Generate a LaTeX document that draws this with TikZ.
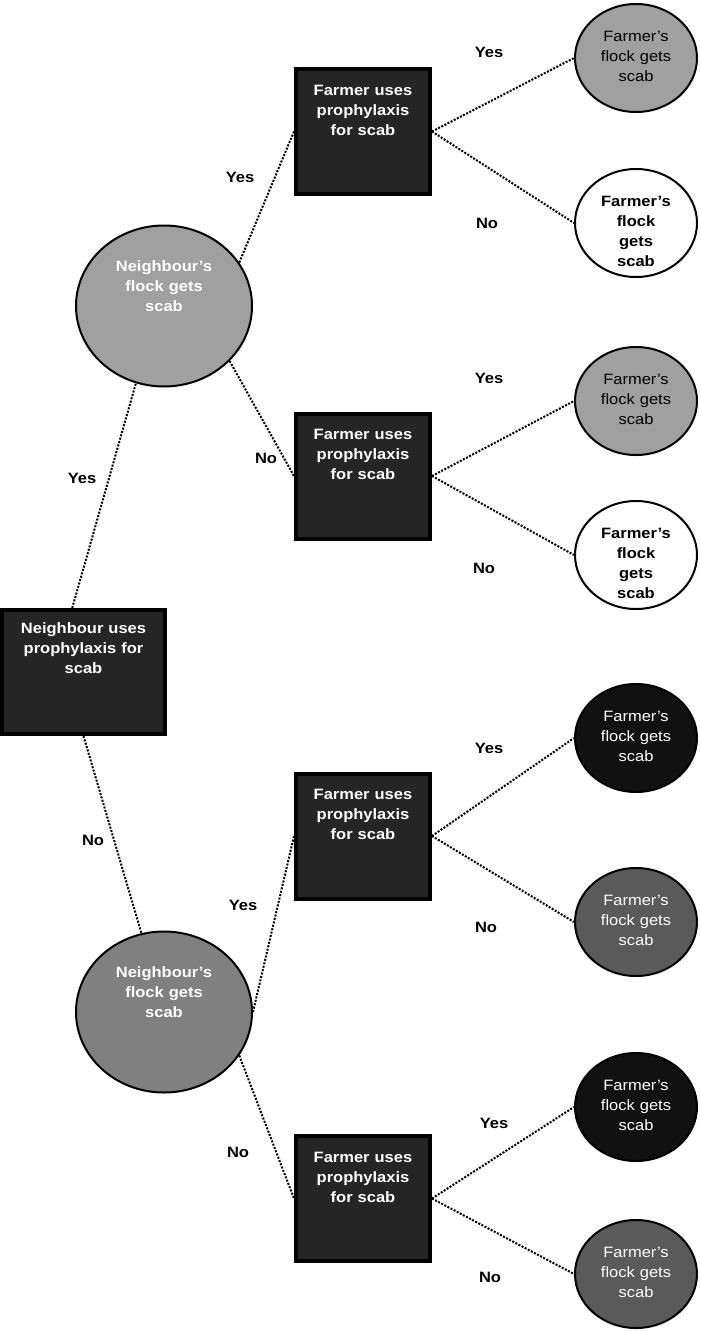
\documentclass[tikz,border=0pt]{standalone}
\usepackage{fontspec}
\setmainfont{Liberation Sans}[FakeStretch=1.1]
\usetikzlibrary{backgrounds,shapes.geometric}
\definecolor{boxfill}{HTML}{252525}
\definecolor{lightgrey}{HTML}{A0A0A0}
\definecolor{midgrey}{HTML}{808080}
\definecolor{darkgrey}{HTML}{5A5A5A}
\definecolor{nearblack}{HTML}{111111}
\tikzset{
  dbox/.style={rectangle, draw=black, line width=4pt, fill=boxfill, text=white, align=center,
    font=\bfseries\fontsize{15}{20}\selectfont, text width=125pt, minimum width=134pt,
    inner ysep=15pt, text height=11pt, text depth=84pt},
  rootbox/.style={dbox, text width=150pt, minimum width=163pt, inner ysep=12pt, text depth=89pt},
  nbr/.style={ellipse, draw=black, line width=2pt, text=white, align=center,
    font=\bfseries\fontsize{15}{20}\selectfont, text width=110pt, inner sep=0pt,
    text height=11pt, text depth=81pt, minimum width=176pt, minimum height=161pt},
  leaf/.style={ellipse, draw=black, line width=2pt, align=center,
    font=\fontsize{15}{20}\selectfont, text width=84pt, inner sep=0pt,
    text height=11pt, text depth=44pt, minimum width=122pt, minimum height=108pt},
  leafgrey/.style={leaf, fill=lightgrey},
  leafwhite/.style={leaf, fill=white, font=\bfseries\fontsize{15}{20}\selectfont},
  leafblack/.style={leaf, fill=nearblack, text=white},
  leafdark/.style={leaf, fill=darkgrey, text=white},
  conn/.style={line width=2pt, dash pattern=on 2pt off 1.5pt},
  lbl/.style={font=\bfseries\fontsize{15}{20}\selectfont, inner sep=0pt}}
\begin{document}
\begin{tikzpicture}[x=1pt, y=-1pt]
  \useasboundingbox (0,0) rectangle (701,1333);
  % decision nodes
  \node[rootbox] (root) at (83.5,672) {Neighbour uses\\prophylaxis for\\scab};
  \node[nbr, fill=lightgrey] (n1) at (164,306) {Neighbour's\\flock gets\\scab};
  \node[nbr, fill=midgrey] (n2) at (164,1012) {Neighbour's\\flock gets\\scab};
  \node[dbox] (f1) at (363,131.5) {Farmer uses\\prophylaxis\\for scab};
  \node[dbox] (f2) at (363,476) {Farmer uses\\prophylaxis\\for scab};
  \node[dbox] (f3) at (363,836) {Farmer uses\\prophylaxis\\for scab};
  \node[dbox] (f4) at (363,1198.5) {Farmer uses\\prophylaxis\\for scab};
  % outcomes
  \node[leafgrey] (l1) at (636,58) {Farmer's\\flock gets\\scab};
  \node[leafwhite] (l2) at (636,223) {Farmer's\\flock\\gets\\scab};
  \node[leafgrey] (l3) at (636,401) {Farmer's\\flock gets\\scab};
  \node[leafwhite] (l4) at (636,555) {Farmer's\\flock\\gets\\scab};
  \node[leafblack] (l5) at (636,738) {Farmer's\\flock gets\\scab};
  \node[leafdark] (l6) at (636,922) {Farmer's\\flock gets\\scab};
  \node[leafblack] (l7) at (636,1107) {Farmer's\\flock gets\\scab};
  \node[leafdark] (l8) at (636,1274) {Farmer's\\flock gets\\scab};
  \begin{scope}[on background layer]
    \draw[conn] (root.100) -- (n1.250);
    \draw[conn] (root.south) -- (n2.106);
    \draw[conn] (n1.30) -- (f1.west);
    \draw[conn] (n1.320) -- (f2.west);
    \draw[conn] (n2.east) -- (f3.west);
    \draw[conn] (n2.330) -- (f4.west);
    \draw[conn] (f1.east) -- (l1.west); \draw[conn] (f1.east) -- (l2.west);
    \draw[conn] (f2.east) -- (l3.west); \draw[conn] (f2.east) -- (l4.west);
    \draw[conn] (f3.east) -- (l5.west); \draw[conn] (f3.east) -- (l6.west);
    \draw[conn] (f4.east) -- (l7.west); \draw[conn] (f4.east) -- (l8.west);
  \end{scope}
  % branch labels
  \node[lbl] (y0) at (82,478) {Yes};
  \node[lbl] (n0) at (93,840) {No};
  \node[lbl] (ya) at (240,177) {Yes};
  \node[lbl] (na) at (266,458) {No};
  \node[lbl] (yb) at (243,905) {Yes};
  \node[lbl] (nb) at (238,1152) {No};
  \node[lbl] (y1) at (489,52) {Yes};
  \node[lbl] (n1l) at (487,223) {No};
  \node[lbl] (y2) at (489,378) {Yes};
  \node[lbl] (n2l) at (484,568) {No};
  \node[lbl] (y3) at (489,748) {Yes};
  \node[lbl] (n3l) at (486,927) {No};
  \node[lbl] (y4) at (494,1123) {Yes};
  \node[lbl] (n4l) at (490,1277) {No};
\end{tikzpicture}
\end{document}
